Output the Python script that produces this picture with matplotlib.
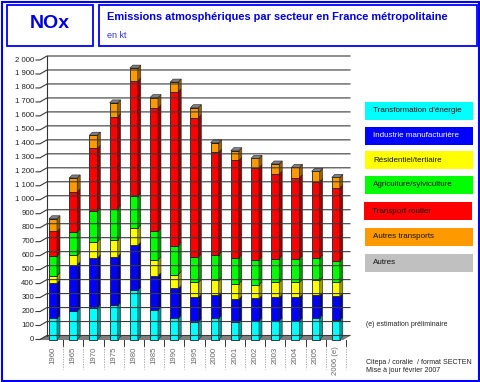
import matplotlib.pyplot as plt
from matplotlib.patches import Rectangle, Polygon
import numpy as np

plt.rcParams['font.family'] = ['Liberation Sans', 'DejaVu Sans']

# data (kt per sector)
years = ['1960', '1965', '1970', '1975', '1980', '1985', '1990', '1995',
         '2000', '2001', '2002', '2003', '2004', '2005', '2006 (e)']
energie = [151, 203, 227, 244, 353, 210, 151, 127, 151, 122, 134, 134, 134, 155, 139]
industrie = [254, 333, 356, 349, 321, 247, 214, 176, 166, 167, 160, 167, 167, 160, 169]
residentiel = [52, 66, 117, 121, 123, 114, 100, 105, 107, 111, 99, 107, 107, 109, 100]
agriculture = [140, 166, 218, 223, 228, 202, 206, 182, 183, 186, 178, 171, 171, 159, 154]
routier = [176, 290, 449, 658, 825, 886, 1103, 998, 732, 696, 658, 606, 579, 547, 525]
autres_transports = [91, 98, 95, 98, 92, 72, 68, 71, 69, 69, 67, 71, 74, 73, 73]
autres = [0] * 15

sectors = ['Transformation d\'énergie', 'Industrie manufacturière', 'Résidentiel/tertiaire',
           'Agriculture/sylviculture', 'Transport routier', 'Autres transports', 'Autres']
series = [energie, industrie, residentiel, agriculture, routier, autres_transports, autres]
colors = ['#00ffff', '#0000ff', '#ffff00', '#00ff00', '#ff0000', '#ff9900', '#c0c0c0']
side_colors = ['#009999', '#000099', '#999900', '#009900', '#990000', '#996000', '#808080']

W, H = 481, 382
fig = plt.figure(figsize=(W / 100, H / 100), dpi=100)


def fx(x):
    return x / W


def fy(y):
    return 1 - y / H


# outer frame and header boxes
fig.patches.append(Rectangle((fx(1.5), fy(380.5)), fx(477.5), (379) / H, transform=fig.transFigure,
                             fill=False, ec='#0000ff', lw=1.5))
fig.patches.append(Rectangle((fx(7.5), fy(45.5)), fx(85), 41 / H, transform=fig.transFigure,
                             fill=False, ec='#0000ff', lw=1.3))
fig.patches.append(Rectangle((fx(98.5), fy(45.5)), fx(379), 41 / H, transform=fig.transFigure,
                             fill=False, ec='#0000ff', lw=1.3))
fig.text(fx(50), fy(23), 'NOx', color='#0000dd', fontsize=14, fontweight='bold',
         ha='center', va='center')
fig.text(fx(107), fy(17), 'Emissions atmosphériques par secteur en France métropolitaine',
         color='#0000dd', fontsize=7.9, fontweight='bold', va='center')
fig.text(fx(107), fy(36), 'en kt', color='#3333cc', fontsize=6.5, va='center')

# chart axes mapped to pixel positions
px_left, px_right = 40, 350
px_top, px_bot = 30, 345
x0_px, step_px = 53, 20.2
zero_px, unit_px = 339.5, 0.13975
ax = fig.add_axes([fx(px_left), fy(px_bot), (px_right - px_left) / W, (px_bot - px_top) / H])
xl = ((px_left - x0_px) / step_px, (px_right - x0_px) / step_px)
yl = (-(px_bot - zero_px) / unit_px, (zero_px - px_top) / unit_px)
ax.set_xlim(xl)
ax.set_ylim(yl)
ax.axis('off')

ux = 1 / step_px
uy = 1 / unit_px
wdx, wdy = 7 * ux, 4 * uy
bdx, bdy = 3 * ux, 3 * uy
bw = 8 / step_px

# floor
ax.add_patch(Polygon([(xl[0], 0), (xl[1] - wdx, 0), (xl[1], wdy), (xl[0] + wdx, wdy)],
                     closed=True, fc='#808080', ec='#606060', lw=0.5, clip_on=False))

# back wall gridlines and y labels
for v in range(0, 2001, 100):
    ax.plot([xl[0] - 4 * ux, xl[0], xl[0] + wdx, xl[1]], [v, v, v + wdy, v + wdy],
            color='#3a3a3a', lw=0.8, clip_on=False)
    lab = '{:,}'.format(v).replace(',', ' ')
    ax.text(xl[0] - 6 * ux, v, lab, ha='right', va='center', fontsize=5.6, color='#222222')
ax.plot([xl[0] + wdx, xl[0] + wdx], [wdy, 2000 + wdy], color='#333333', lw=0.8)

# stacked 3d-looking bars
x = np.arange(len(years))
bottom = np.zeros(len(years))
for vals, c, sc in zip(series, colors, side_colors):
    vals = np.array(vals, dtype=float)
    ax.bar(x, vals, bw, bottom=bottom, color=c, edgecolor='#202020', linewidth=0.6)
    for i in range(len(x)):
        if vals[i] <= 0:
            continue
        xr = x[i] + bw / 2
        b, t = bottom[i], bottom[i] + vals[i]
        ax.add_patch(Polygon([(xr, b), (xr + bdx, b + bdy), (xr + bdx, t + bdy), (xr, t)],
                             closed=True, fc=sc, ec='#202020', lw=0.4))
    bottom += vals
for i in range(len(x)):
    xl_b, xr_b, t = x[i] - bw / 2, x[i] + bw / 2, bottom[i]
    ax.add_patch(Polygon([(xl_b, t), (xr_b, t), (xr_b + bdx, t + bdy), (xl_b + bdx, t + bdy)],
                         closed=True, fc='#808080', ec='#202020', lw=0.4))

# x labels and separators
for i, yr in enumerate(years):
    ax.text(x[i], -7 * uy, yr, rotation=90, ha='center', va='top', fontsize=5.6,
            color='#666666', clip_on=False)
for b in np.arange(0.5, len(years), 1.0):
    ax.plot([b, b], [0, -6 * uy], color='#333333', lw=0.7, clip_on=False)
    ax.plot([b, b], [-6 * uy, -29 * uy], color='#999999', lw=0.6, ls=(0, (1.5, 1.5)),
            clip_on=False)

# legend boxes
legend_tops = [102, 127, 151, 176, 202, 228, 254]
for name, c, top in zip(sectors, colors, legend_tops):
    left = 364 if name == 'Transport routier' else 365
    fig.patches.append(Rectangle((fx(left), fy(top + 18)), 108 / W, 18 / H,
                                 transform=fig.transFigure, fc=c, ec='none'))
    tc = 'white' if c == '#0000ff' else '#111111'
    fig.text(fx(left + 8), fy(top + 9), name, fontsize=5.8, color=tc, va='center')

fig.text(fx(366), fy(325), '(e) estimation préliminaire', fontsize=5, color='#222222', va='center')
fig.text(fx(366), fy(362), 'Citepa / coralie  / format SECTEN', fontsize=5, color='#222222', va='center')
fig.text(fx(366), fy(371), 'Mise à jour février 2007', fontsize=5, color='#222222', va='center')

fig.savefig('out.png', dpi=100)
